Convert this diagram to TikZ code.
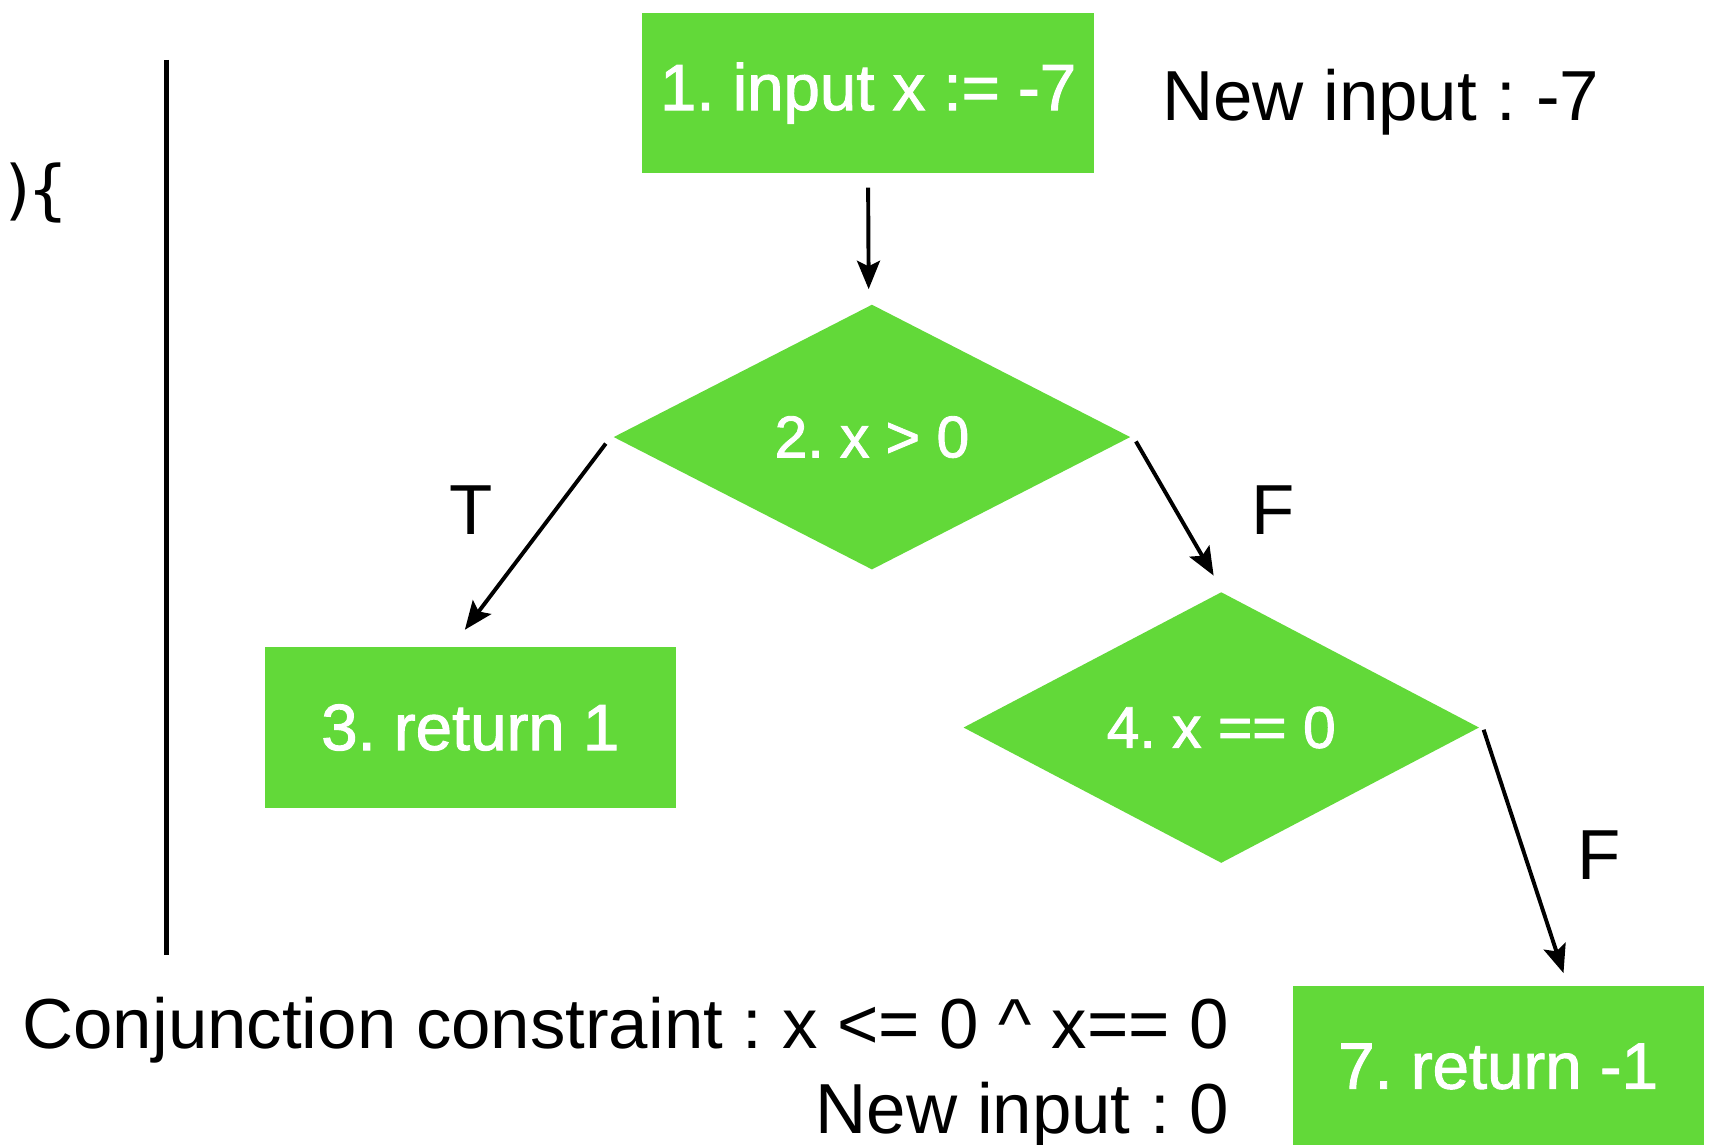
\documentclass[tikz,border=0pt]{standalone}
\usepackage{fontspec}
\setmainfont{Liberation Sans}
\newfontfamily\medfont{Liberation Sans}[BoldFont={Liberation Sans}, BoldFeatures={FakeBold=1.5}]
\newfontfamily\codefont{DejaVu Sans Mono}
\usetikzlibrary{shapes.geometric,arrows.meta}
\definecolor{flowgreen}{RGB}{98,217,57}
\frenchspacing
\tikzset{
  stepbox/.style={rectangle, fill=flowgreen, text=white, inner sep=0pt,
    minimum width=377pt, minimum height=147pt, font=\medfont\bfseries\fontsize{60}{60}\selectfont},
  decision/.style={diamond, fill=flowgreen, text=white, inner sep=0pt,
    minimum width=474pt, minimum height=243pt, font=\medfont\bfseries\fontsize{54}{54}\selectfont},
  arr/.style={line width=3.6pt, -{Stealth[length=26pt,width=21pt,inset=5pt]}},
  lbl/.style={font=\fontsize{65}{65}\selectfont, inner sep=0pt},
}
\begin{document}
\begin{tikzpicture}[x=1pt,y=-1pt]
\useasboundingbox (0,0) rectangle (1568,1050);

% code fragment and separator
\node[font=\codefont\fontsize{60}{60}\selectfont, inner sep=0pt, anchor=base east] (code) at (62,195) {)\kern-10pt\{};
\coordinate (sepTop) at (153,55);
\coordinate (sepBot) at (153,876);
\draw[line width=4.5pt] (sepTop) -- (sepBot);

% flow graph
\node[stepbox, minimum width=415pt] (s1) at (796.5,85.5) {1. input x := -7};
\node[decision] (d2) at (800,401) {2. x > 0};
\node[stepbox] (s3) at (431.5,667.5) {3. return 1};
\node[decision, minimum width=473pt] (d4) at (1120.5,667.5) {4. x == 0};
\node[stepbox] (s7) at (1374.5,978.5) {7. return -1};

\draw[arr] ([shift={(0,13)}]s1.south) -- ([shift={(-3,-14)}]d2.north);
\draw[arr] ([shift={(-7,6)}]d2.west) -- ([shift={(-5,-16)}]s3.north);
\draw[arr] ([shift={(5,4)}]d2.east) -- ([shift={(-7,-15)}]d4.north);
\draw[arr] ([shift={(4,2)}]d4.east) -- ([shift={(60,-12)}]s7.north);

\node[lbl] (t1) at (432,468) {T};
\node[lbl] (f1) at (1168,468) {F};
\node[lbl] (f2) at (1467,785) {F};

% annotations
\node[lbl, anchor=base west] (in1) at (1066,111) {New input : -7};
\node[lbl, anchor=base east] (conj) at (1128,962) {Conjunction constraint : x <= 0 \^{} x== 0};
\node[lbl, anchor=base east] (in2) at (1128,1040) {New input : 0};
\end{tikzpicture}
\end{document}
